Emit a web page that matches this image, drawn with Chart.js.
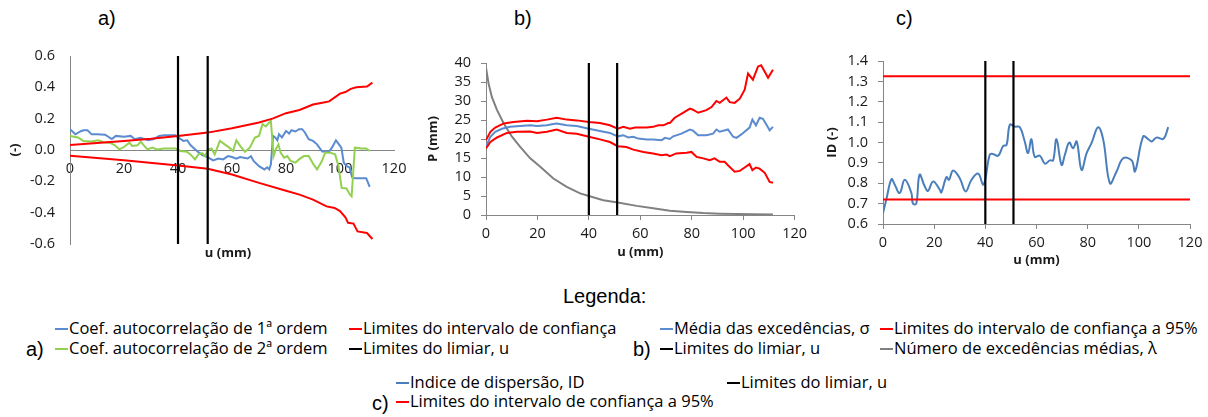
<!DOCTYPE html>
<html lang="pt">
<head>
<meta charset="utf-8">
<title>Análise do limiar</title>
<script src="https://cdn.jsdelivr.net/npm/chart.js@4.4.1/dist/chart.umd.min.js"></script>
<style>
    html, body { margin: 0; padding: 0; background: #fff; }
    body { width: 1208px; height: 417px; position: relative; overflow: hidden; }
    canvas { position: absolute; }
    .lbl { position: absolute; font-family: "Liberation Sans", Arial, sans-serif; font-size: 20px; color: #000; line-height: 20px; white-space: nowrap; }
    .it { position: absolute; font-family: "Open Sans", sans-serif; font-size: 16.5px; color: #000; line-height: 20px; white-space: nowrap; }
    .it i { display: inline-block; width: 13px; height: 2px; vertical-align: middle; margin-right: 1px; position: relative; top: -1px; }
</style>
</head>
<body>

<div class="lbl" style="left:98px;top:8px">a)</div>
<div class="lbl" style="left:514px;top:8px">b)</div>
<div class="lbl" style="left:896px;top:8px">c)</div>

<canvas id="chartA" width="410" height="222" style="left:0;top:40px"></canvas>
<canvas id="chartB" width="402" height="220" style="left:410px;top:40px"></canvas>
<canvas id="chartC" width="398" height="228" style="left:810px;top:40px"></canvas>

<!-- legenda -->
<div class="lbl" style="left:563px;top:286px">Legenda:</div>

<div class="lbl" style="left:26px;top:339px">a)</div>
<div class="it" style="left:55px;top:318px"><i style="background:#5b8bd0"></i>Coef. autocorrelação de 1ª ordem</div>
<div class="it" style="left:55px;top:338px"><i style="background:#92d050"></i>Coef. autocorrelação de 2ª ordem</div>
<div class="it" style="left:349px;top:318px"><i style="background:#ff0000"></i>Limites do intervalo de confiança</div>
<div class="it" style="left:349px;top:338px"><i style="background:#000"></i>Limites do limiar, u</div>

<div class="lbl" style="left:633px;top:339px">b)</div>
<div class="it" style="left:660px;top:318px"><i style="background:#5b8bd0"></i>Média das excedências, σ</div>
<div class="it" style="left:660px;top:338px"><i style="background:#000"></i>Limites do limiar, u</div>
<div class="it" style="left:880px;top:318px"><i style="background:#ff0000"></i>Limites do intervalo de confiança a 95%</div>
<div class="it" style="left:880px;top:338px"><i style="background:#808080"></i>Número de excedências médias, λ</div>

<div class="lbl" style="left:372px;top:393px">c)</div>
<div class="it" style="left:396px;top:372px"><i style="background:#4a7ebb"></i>Indice de dispersão, ID</div>
<div class="it" style="left:396px;top:391px"><i style="background:#ff0000"></i>Limites do intervalo de confiança a 95%</div>
<div class="it" style="left:727px;top:372px"><i style="background:#000"></i>Limites do limiar, u</div>

<script>
// ------------------------------------------------------
// Dados
// ------------------------------------------------------
const uLimits = [40, 51];          // limites do limiar, u (mm)
const xTicks = [0, 20, 40, 60, 80, 100, 120];

// a) coeficientes de autocorrelação
const yTicksA = [-0.6, -0.4, -0.2, 0.0, 0.2, 0.4, 0.6];
const uCoef1 = [0, 2, 4, 5, 6.5, 8, 10, 13, 15.5, 17, 20, 22.5, 24, 26, 29, 31, 33, 35, 39, 40, 42, 43.4, 44.6, 47, 49, 51, 53, 55, 56.7, 58.5, 60, 61.6, 63, 65.8, 67, 68, 70, 72, 73, 73.8, 74.4, 75.2, 76, 76.8, 77.4, 78.5, 80, 81.2, 82, 83.5, 84.8, 86, 87, 88.4, 90, 91.5, 93.4, 96, 97, 98.5, 100.5, 101.4, 102.5, 103.5, 104.5, 105.5, 109.7, 111];
const coef1 = [0.133, 0.10, 0.12, 0.126, 0.126, 0.10, 0.10, 0.098, 0.07, 0.09, 0.084, 0.09, 0.069, 0.078, 0.062, 0.07, 0.09, 0.094, 0.094, 0.08, 0.058, 0.062, 0.032, -0.006, -0.032, -0.045, -0.066, -0.054, -0.06, -0.039, -0.045, -0.056, -0.045, -0.054, -0.04, -0.07, -0.103, -0.124, -0.11, -0.124, -0.092, 0.09, 0.08, 0.062, 0.10, 0.08, 0.122, 0.105, 0.126, 0.118, 0.133, 0.133, 0.112, 0.069, 0.058, 0.036, -0.01, -0.01, 0.015, 0.062, 0.015, -0.081, -0.103, -0.11, -0.174, -0.18, -0.18, -0.236];
const uCoef2 = [0, 3, 4.9, 8, 10.4, 12.5, 14.6, 16.5, 18.3, 20, 22, 23, 25, 26.2, 27.5, 28.7, 30.5, 32.3, 34.8, 39, 40.9, 43.3, 44.6, 46.3, 47.6, 49, 50, 51.2, 52.4, 53.6, 55.5, 57.3, 59, 60.4, 61.6, 63, 64.8, 66.6, 68.5, 70, 71.3, 72.5, 73.8, 74.4, 75.4, 76.2, 77.2, 78, 79.3, 80.5, 81.7, 83.5, 84.8, 86.6, 88.4, 90.2, 91.5, 93.3, 94.5, 96.3, 98.2, 99.4, 100.6, 102.4, 103.7, 104.3, 105.5, 108, 109.7, 111];
const coef2 = [0.09, 0.08, 0.058, 0.054, 0.062, 0.05, 0.047, 0.032, 0.004, 0.019, 0.047, 0.026, 0.03, 0.054, 0.026, 0.004, 0.015, 0.004, 0.01, 0.01, -0.006, -0.011, -0.028, -0.06, -0.028, -0.02, -0.039, 0.004, 0.01, -0.028, 0.058, 0.036, 0.015, -0.006, 0.062, 0.026, -0.011, 0.015, 0.079, 0.09, 0.165, 0.15, 0.176, 0.186, -0.039, 0.004, 0.036, -0.017, -0.049, -0.039, -0.07, -0.081, -0.06, -0.039, -0.039, -0.092, -0.124, -0.07, -0.017, -0.017, -0.028, -0.1, -0.242, -0.246, -0.285, -0.296, 0.015, 0.01, 0.01, -0.006];
const uCiAUp = [0, 10, 20, 30, 40, 51, 60, 70, 75, 80, 85, 90, 93, 96, 100, 102, 104, 106, 110, 112];
const ciAUp = [0.032, 0.045, 0.058, 0.072, 0.09, 0.111, 0.139, 0.176, 0.2, 0.235, 0.255, 0.29, 0.3, 0.31, 0.36, 0.37, 0.39, 0.4, 0.405, 0.43];
const uCiALow = [0, 20, 40, 51, 60, 70, 80, 85, 90, 95, 98, 100, 102, 103, 105, 106.5, 110, 112];
const ciALow = [-0.036, -0.066, -0.099, -0.12, -0.156, -0.21, -0.26, -0.285, -0.317, -0.36, -0.37, -0.39, -0.43, -0.465, -0.47, -0.52, -0.53, -0.568];

// b) média das excedências e número médio de excedências
const yTicksB = [0, 5, 10, 15, 20, 25, 30, 35, 40];
const uSigma = [0, 0.5, 1.7, 3.6, 6.2, 9.4, 13.3, 17.2, 19.8, 23.7, 25.6, 27.5, 31.4, 35.3, 40, 44.3, 48.2, 51.2, 53.4, 55.3, 57.3, 59.2, 62.5, 65, 68.3, 69.6, 71.5, 72.8, 76, 79.3, 80.5, 82.5, 85.7, 88.3, 89.6, 90.9, 94.1, 96.1, 97.4, 99.3, 102.5, 103.6, 105, 106.4, 107.7, 109.7, 110.3, 111.6];
const sigma = [18.1, 18.8, 20.6, 21.9, 22.7, 23.2, 23.4, 23.6, 23.4, 23.6, 23.9, 24.1, 23.6, 23.4, 22.7, 22.1, 21.6, 20.7, 21, 20.4, 20.6, 20.1, 19.9, 19.9, 19.7, 20.3, 20, 20.7, 21.4, 22.5, 22.2, 21, 21, 21.4, 22.5, 21.9, 22.5, 20.6, 20.3, 21.2, 23, 25.1, 23.6, 25.6, 25.3, 23, 22.3, 23.2];
const uCiBUp = [0, 1.7, 3.6, 6.9, 10.7, 15.9, 19.8, 23.7, 27.5, 31.4, 35.3, 40, 44.3, 48.2, 51.2, 53.4, 56, 58, 62.5, 65, 67, 69, 70.9, 71.5, 73.4, 76.6, 79.3, 80.5, 82.5, 85.7, 87.7, 89.6, 90.9, 93.5, 94.8, 96.7, 98.7, 100.6, 101.9, 103.8, 105.8, 107, 109.7, 111.6];
const ciBUp = [19.7, 21.9, 23, 24.1, 24.5, 24.8, 24.7, 25.1, 25.6, 25.1, 24.9, 24.5, 24.2, 23.6, 22.7, 23.2, 22.7, 23, 23, 23.2, 23.6, 23.6, 24.2, 24.2, 25.6, 26.9, 28, 27.7, 26.9, 27.6, 28.4, 30, 29.5, 30.9, 29.7, 29.5, 30.6, 33, 37.2, 35.6, 39.1, 39.4, 36.1, 38.2];
const uCiBLow = [0, 1.7, 4.3, 8.1, 12, 17.2, 19.8, 23.7, 27.5, 31.4, 35.3, 40, 44.3, 48.2, 51.2, 54.6, 57.3, 61.2, 65, 68.3, 70.2, 71.5, 74, 78, 79.9, 81.9, 84.5, 87, 88.9, 90.9, 92.8, 94.1, 96.7, 98.7, 100.6, 102.5, 103.6, 105, 106.4, 108.4, 110.3, 111.6];
const ciBLow = [17.5, 19.2, 20.4, 21.6, 21.9, 22, 21.6, 21.9, 22.5, 21.6, 21.4, 20.6, 19.9, 19.2, 18.1, 17.9, 17.2, 16.6, 16.2, 15.7, 15.9, 15.5, 16.2, 16.4, 16.6, 15.3, 14.9, 14.4, 14.9, 14, 14, 13.1, 11.4, 11.6, 12.5, 13.4, 11.8, 12.5, 12.2, 11.1, 8.7, 8.5];
const uLambda = [0, 1, 2.3, 4.3, 6.9, 10.1, 13.3, 17.2, 21.1, 26.2, 31.4, 36.6, 40, 45.6, 51.2, 58.6, 65, 71.5, 78, 84.5, 90.9, 103.8, 111.6];
const lambda = [38.8, 34.6, 31, 27.6, 24.1, 20.6, 17.9, 14.9, 12.7, 9.6, 7.4, 5.7, 5, 3.9, 3.3, 2.4, 1.75, 1.1, 0.8, 0.5, 0.35, 0.2, 0.1];

// c) índice de dispersão
const yTicksC = [0.6, 0.7, 0.8, 0.9, 1.0, 1.1, 1.2, 1.3, 1.4];
const ciC = [0.72, 1.325];
const uId = [0, 1.3, 3.3, 4.6, 6.5, 8.5, 11.1, 11.7, 13, 14.3, 16.3, 17.6, 19.6, 22.2, 22.8, 24.8, 25.8, 27.4, 30, 32.3, 34.6, 37.2, 39.1, 40, 41.7, 43, 45, 47, 48.3, 49.6, 51.5, 53.5, 55.4, 56.7, 58, 59.3, 61.3, 63.3, 65.2, 66.5, 67.8, 69.8, 71.1, 72.8, 74.3, 75.7, 77.6, 79.6, 81.5, 84.1, 86.1, 88.7, 91.3, 93.9, 97.2, 98.5, 101.7, 103.7, 105, 106.9, 109.6, 111.5];
const idx = [0.654, 0.72, 0.82, 0.793, 0.752, 0.817, 0.752, 0.70, 0.70, 0.842, 0.785, 0.763, 0.809, 0.768, 0.755, 0.83, 0.817, 0.863, 0.825, 0.76, 0.817, 0.847, 0.793, 0.82, 0.94, 0.944, 0.935, 0.983, 0.988, 1.087, 1.078, 1.075, 1.005, 0.948, 1.016, 0.93, 0.935, 0.896, 0.912, 0.912, 1.016, 0.89, 0.94, 1.0, 0.972, 1.005, 0.866, 0.948, 0.997, 1.075, 1.013, 0.8, 0.858, 0.923, 0.912, 0.858, 1.03, 1.016, 1.005, 1.024, 1.018, 1.075];

// ------------------------------------------------------
// Estilos comuns
// ------------------------------------------------------
const AXIS_GRAY = '#868686';
const TICK_FONT = { family: '"Open Sans", sans-serif', size: 14.5 };
const TITLE_FONT = { family: '"Open Sans", sans-serif', size: 13, weight: 'bold' };
const TEXT_COLOR = '#1a1a1a';

function pts(xs, ys) {
    return xs.map((x, i) => ({ x: x, y: ys[i] }));
}

function line(data, color, order, extra) {
    return Object.assign({
        data: data,
        borderColor: color,
        borderWidth: 2,
        pointRadius: 0,
        fill: false,
        tension: 0,
        order: order
    }, extra || {});
}

// linhas verticais do limiar u, de ponta a ponta do eixo y
function limitLines(yMin, yMax) {
    return uLimits.map(u => line([{ x: u, y: yMin }, { x: u, y: yMax }], '#000', 0, { borderWidth: 2.2 }));
}

function fixedTicks(values) {
    return function (scale) {
        scale.ticks = values.map(v => ({ value: v }));
    };
}

function baseOptions(padding) {
    return {
        responsive: false,
        animation: false,
        devicePixelRatio: 1,
        layout: { padding: padding },
        plugins: { legend: { display: false }, tooltip: { enabled: false } }
    };
}

// ------------------------------------------------------
// a) Coeficientes de autocorrelação
// ------------------------------------------------------
const axisTitleA = {
    id: 'axisTitleA',
    afterDraw(chart) {
        const { ctx, chartArea } = chart;
        ctx.save();
        ctx.font = 'bold 13px "Open Sans", sans-serif';
        ctx.fillStyle = TEXT_COLOR;
        ctx.textAlign = 'center';
        ctx.textBaseline = 'middle';
        ctx.fillText('u (mm)', (chartArea.left + chartArea.right) / 2 - 4, chartArea.bottom + 9);
        ctx.restore();
    }
};

// sem marcas de escala: o tickLength so serve para afastar os rotulos do eixo
const optA = baseOptions({ top: 16, right: 16, bottom: 18, left: 0 });
optA.scales = {
    x: {
        type: 'linear', min: 0, max: 120,
        position: { y: 0 },
        afterBuildTicks: fixedTicks(xTicks),
        grid: { display: false, drawTicks: true, tickLength: 10 },
        border: { color: AXIS_GRAY, width: 1 },
        ticks: { font: TICK_FONT, color: TEXT_COLOR, padding: 0, maxRotation: 0, autoSkip: false }
    },
    y: {
        type: 'linear', min: -0.6, max: 0.6,
        afterBuildTicks: fixedTicks(yTicksA),
        afterFit: s => { s.width = 70; },
        grid: { display: false, drawTicks: true, tickLength: 9 },
        border: { color: AXIS_GRAY, width: 1 },
        title: { display: true, text: '(-)', font: TITLE_FONT, color: TEXT_COLOR, padding: { top: 7, bottom: 0 } },
        ticks: {
            font: TICK_FONT, color: TEXT_COLOR, padding: 6, autoSkip: false,
            callback: v => (Math.abs(v) < 1e-9 ? 0 : v).toFixed(1)
        }
    }
};

new Chart(document.getElementById('chartA'), {
    type: 'line',
    data: {
        datasets: [
            line(pts(uCoef1, coef1), '#5b8bd0', 3),
            line(pts(uCoef2, coef2), '#92d050', 2),
            line(pts(uCiAUp, ciAUp), '#ff0000', 1),
            line(pts(uCiALow, ciALow), '#ff0000', 1)
        ].concat(limitLines(-0.6, 0.6))
    },
    options: optA,
    plugins: [axisTitleA]
});

// ------------------------------------------------------
// b) Média das excedências
// ------------------------------------------------------
const optB = baseOptions({ top: 23, right: 17, bottom: 0, left: 0 });
optB.scales = {
    x: {
        type: 'linear', min: 0, max: 120,
        afterBuildTicks: fixedTicks(xTicks),
        afterFit: s => { s.height = 45; },
        grid: { drawOnChartArea: false, tickLength: 5, color: AXIS_GRAY },
        border: { color: AXIS_GRAY, width: 1 },
        title: { display: true, text: 'u (mm)', font: TITLE_FONT, color: TEXT_COLOR, padding: { top: 0, bottom: 0 } },
        ticks: { font: TICK_FONT, color: TEXT_COLOR, padding: 5, maxRotation: 0, autoSkip: false }
    },
    y: {
        type: 'linear', min: 0, max: 40,
        afterBuildTicks: fixedTicks(yTicksB),
        afterFit: s => { s.width = 76; },
        grid: { drawOnChartArea: false, tickLength: 5, color: AXIS_GRAY },
        border: { color: AXIS_GRAY, width: 1 },
        title: { display: true, text: 'P (mm)', font: TITLE_FONT, color: TEXT_COLOR, padding: { top: 15, bottom: 0 } },
        ticks: { font: TICK_FONT, color: TEXT_COLOR, padding: 10, autoSkip: false }
    }
};

new Chart(document.getElementById('chartB'), {
    type: 'line',
    data: {
        datasets: [
            line(pts(uLambda, lambda), '#808080', 4),
            line(pts(uSigma, sigma), '#5b8bd0', 2),
            line(pts(uCiBUp, ciBUp), '#ff0000', 1),
            line(pts(uCiBLow, ciBLow), '#ff0000', 1)
        ].concat(limitLines(0, 40))
    },
    options: optB
});

// ------------------------------------------------------
// c) Índice de dispersão
// ------------------------------------------------------
const optC = baseOptions({ top: 21, right: 18, bottom: 0, left: 0 });
optC.scales = {
    x: {
        type: 'linear', min: 0, max: 120,
        afterBuildTicks: fixedTicks(xTicks),
        afterFit: s => { s.height = 44; },
        grid: { drawOnChartArea: false, tickLength: 5, color: AXIS_GRAY },
        border: { color: AXIS_GRAY, width: 1 },
        title: { display: true, text: 'u (mm)', font: TITLE_FONT, color: TEXT_COLOR, padding: { top: 0, bottom: 0 } },
        ticks: { font: TICK_FONT, color: TEXT_COLOR, padding: 5, maxRotation: 0, autoSkip: false }
    },
    y: {
        type: 'linear', min: 0.6, max: 1.4,
        afterBuildTicks: fixedTicks(yTicksC),
        afterFit: s => { s.width = 73; },
        grid: { drawOnChartArea: false, tickLength: 5, color: AXIS_GRAY },
        border: { color: AXIS_GRAY, width: 1 },
        title: { display: true, text: 'ID (-)', font: TITLE_FONT, color: TEXT_COLOR, padding: { top: 14, bottom: 0 } },
        ticks: { font: TICK_FONT, color: TEXT_COLOR, padding: 10, autoSkip: false, callback: v => v.toFixed(1) }
    }
};

new Chart(document.getElementById('chartC'), {
    type: 'line',
    data: {
        datasets: [
            line(pts(uId, idx), '#4a7ebb', 2, { tension: 0.4 }),
            line([{ x: 0, y: ciC[0] }, { x: 120, y: ciC[0] }], '#ff0000', 1),
            line([{ x: 0, y: ciC[1] }, { x: 120, y: ciC[1] }], '#ff0000', 1)
        ].concat(limitLines(0.6, 1.4))
    },
    options: optC
});
</script>
</body>
</html>
